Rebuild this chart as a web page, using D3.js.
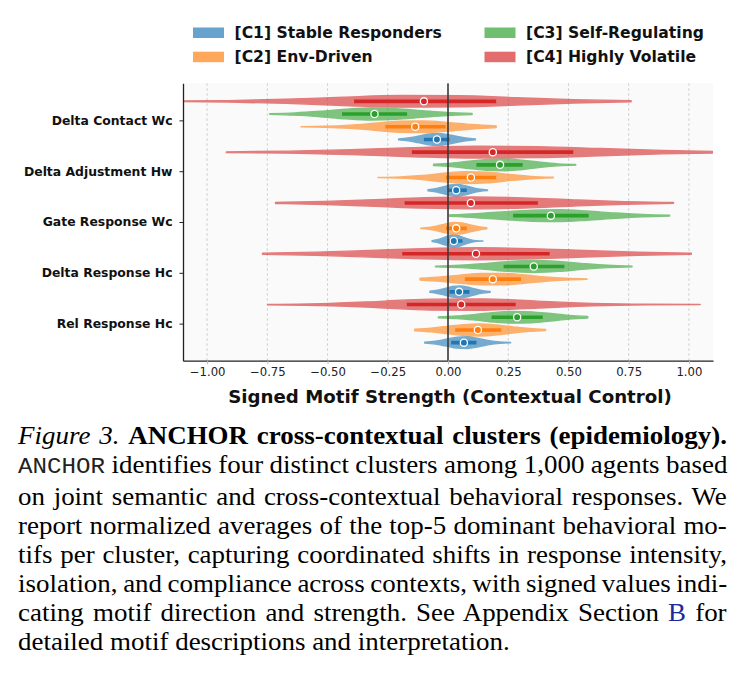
<!DOCTYPE html>
<html><head><meta charset="utf-8">
<script src="https://cdn.jsdelivr.net/npm/d3@7"></script>
<style>
body{margin:0;background:#fff;width:740px;height:677px;overflow:hidden;position:relative;}
svg{position:absolute;left:0;top:0;}
#cap{position:absolute;left:18px;top:421px;width:645px;font-family:"Liberation Serif","Times New Roman",serif;font-size:24.5px;line-height:29px;color:#000;transform:scaleX(1.1);transform-origin:0 0;}
.ln{white-space:nowrap;}
.ln > span.in{display:inline-block;}
.tt{font-family:"Liberation Mono",monospace;font-size:22px;color:#222;}
.lnk{color:#1c2a9a;}
</style></head>
<body>
<svg id="chart" width="740" height="677"></svg>
<div id="cap">
<div class="ln"><span class="in"><i>Figure 3.</i> <b>ANCHOR cross-contextual clusters (epidemiology).</b></span></div>
<div class="ln"><span class="in"><span class="tt">ANCHOR</span> identifies four distinct clusters among 1,000 agents based</span></div>
<div class="ln"><span class="in">on joint semantic and cross-contextual behavioral responses. We</span></div>
<div class="ln"><span class="in">report normalized averages of the top-5 dominant behavioral mo-</span></div>
<div class="ln"><span class="in">tifs per cluster, capturing coordinated shifts in response intensity,</span></div>
<div class="ln"><span class="in">isolation, and compliance across contexts, with signed values indi-</span></div>
<div class="ln"><span class="in">cating motif direction and strength. See Appendix Section <span class="lnk">B</span> for</span></div>
<div class="ln last"><span class="in">detailed motif descriptions and interpretation.</span></div>
</div>
<script>
const motifs = ["Delta Contact Wc","Delta Adjustment Hw","Gate Response Wc","Delta Response Hc","Rel Response Hc"];
const clusterKeys = ["C1","C2","C3","C4"];
const clusterNames = ["[C1] Stable Responders","[C2] Env-Driven","[C3] Self-Regulating","[C4] Highly Volatile"];
const xTicks = [-1,-0.75,-0.5,-0.25,0,0.25,0.5,0.75,1];

// per motif: [min, q1, median, q3, max]
const c1Stats = [[-0.205,-0.10,-0.046,0.006,0.114],[-0.083,0.0,0.034,0.078,0.164],[-0.066,0.0,0.024,0.06,0.145],[-0.075,0.006,0.046,0.089,0.175],[-0.097,0.013,0.066,0.118,0.26]];
const c2Stats = [[-0.61,-0.26,-0.136,-0.01,0.20],[-0.29,-0.008,0.095,0.20,0.437],[-0.113,-0.008,0.034,0.078,0.161],[-0.116,0.07,0.186,0.303,0.577],[-0.138,0.03,0.124,0.221,0.405]];
const c3Stats = [[-0.74,-0.44,-0.305,-0.17,0.10],[-0.06,0.118,0.216,0.31,0.53],[0.006,0.27,0.427,0.584,0.92],[-0.052,0.231,0.356,0.483,0.764],[-0.04,0.181,0.287,0.393,0.58]];
const c4Stats = [[-1.15,-0.39,-0.10,0.20,0.76],[-0.92,-0.15,0.186,0.52,1.15],[-0.716,-0.18,0.095,0.373,0.936],[-0.77,-0.19,0.116,0.422,1.01],[-0.748,-0.171,0.055,0.281,1.047]];

// relative density, 9 evenly spaced samples from min to max
const c1Density = [[0.08,0.24,0.53,0.86,1.0,0.85,0.53,0.24,0.08],[0.08,0.26,0.57,0.90,0.99,0.77,0.42,0.16,0.04],[0.08,0.28,0.65,0.96,0.92,0.58,0.24,0.06,0.01],[0.09,0.27,0.56,0.89,1.0,0.82,0.48,0.21,0.07],[0.07,0.24,0.57,0.92,0.98,0.69,0.32,0.10,0.02]];
const c2Density = [[0.02,0.08,0.27,0.59,0.92,0.98,0.73,0.37,0.13],[0.02,0.10,0.34,0.72,0.99,0.88,0.52,0.19,0.05],[0.04,0.14,0.40,0.74,0.99,0.92,0.59,0.27,0.09],[0.15,0.38,0.71,0.96,0.96,0.70,0.37,0.15,0.04],[0.12,0.31,0.61,0.90,1.0,0.83,0.52,0.24,0.09]];
const c3Density = [[0.05,0.19,0.46,0.80,1.0,0.88,0.56,0.25,0.08],[0.10,0.29,0.61,0.91,0.99,0.77,0.43,0.17,0.05],[0.13,0.34,0.65,0.93,0.99,0.77,0.45,0.19,0.06],[0.05,0.19,0.48,0.83,1.0,0.83,0.48,0.19,0.05],[0.07,0.21,0.48,0.80,0.99,0.91,0.62,0.31,0.12]];
const c4Density = [[0.03,0.12,0.34,0.70,0.97,0.93,0.62,0.28,0.09],[0.05,0.17,0.42,0.76,0.99,0.92,0.61,0.29,0.10],[0.09,0.26,0.56,0.87,1.0,0.84,0.51,0.23,0.07],[0.10,0.27,0.56,0.86,1.0,0.86,0.55,0.26,0.09],[0.03,0.16,0.50,0.91,0.95,0.57,0.20,0.04,0.00]];

const colors = {C1:"#1f77b4",C2:"#ff7f0e",C3:"#2ca02c",C4:"#d62728"};
const statsByKey = {C1:c1Stats,C2:c2Stats,C3:c3Stats,C4:c4Stats};
const densByKey = {C1:c1Density,C2:c2Density,C3:c3Density,C4:c4Density};

const L=183,R=713,T=83.3,B=360.7;
const svg = d3.select("#chart");
const x = d3.scaleLinear().domain([-1.1,1.1]).range([L,R]);
const y = d3.scalePoint().domain(motifs).range([T,B]).padding(0.73);
const hue = d3.scaleBand().domain(["C4","C3","C2","C1"]).range([-y.step()/2,y.step()/2]);
const halfW = hue.bandwidth()*0.47;

svg.append("defs").append("clipPath").attr("id","clip").append("rect")
  .attr("x",L).attr("y",T).attr("width",R-L).attr("height",B-T);

svg.append("rect").attr("x",L).attr("y",T).attr("width",R-L).attr("height",B-T).attr("fill","#fafafa");

svg.append("g").selectAll("line").data(xTicks).join("line")
  .attr("x1",d=>x(d)).attr("x2",d=>x(d)).attr("y1",T).attr("y2",B)
  .attr("stroke","#c4c4c4").attr("stroke-width",0.8).attr("stroke-dasharray","2.5,2.5");

const plot = svg.append("g").attr("clip-path","url(#clip)");
const area = d3.area().curve(d3.curveMonotoneX);

const items = [];
clusterKeys.forEach(k=>{
  motifs.forEach((m,i)=>{
    items.push({k, m, s:statsByKey[k][i], d:densByKey[k][i], cy: y(m)+hue(k)+hue.bandwidth()/2});
  });
});

const vg = plot.append("g");
items.forEach(it=>{
  const [mn,q1,md,q3,mx] = it.s;
  const n = it.d.length-1;
  const pts = it.d.map((w,j)=>({v: mn + (mx-mn)*j/n, w}));
  area.x(p=>x(p.v)).y0(p=>it.cy - p.w*halfW).y1(p=>it.cy + p.w*halfW);
  vg.append("path").attr("d",area(pts))
    .attr("fill",colors[it.k]).attr("stroke",colors[it.k]).attr("stroke-width",1.4)
    .attr("stroke-linejoin","round").attr("opacity",0.6);
});
items.forEach(it=>{
  const [mn,q1,md,q3,mx] = it.s;
  vg.append("line").attr("x1",x(q1)).attr("x2",x(q3)).attr("y1",it.cy).attr("y2",it.cy)
    .attr("stroke",colors[it.k]).attr("stroke-width",3.6);
});
plot.append("line").attr("x1",x(0)).attr("x2",x(0)).attr("y1",T).attr("y2",B)
  .attr("stroke","#3a3a3a").attr("stroke-width",1.6);
items.forEach(it=>{
  vg.append("circle").attr("cx",x(it.s[2])).attr("cy",it.cy).attr("r",3.6)
    .attr("fill",colors[it.k]).attr("stroke","#fff").attr("stroke-width",1.3);
});

const xa = svg.append("g").attr("transform",`translate(0,${B})`)
  .call(d3.axisBottom(x).tickValues(xTicks).tickFormat(d3.format(".2f")).tickSize(3.5).tickSizeOuter(0).tickPadding(3.5));
xa.selectAll("text").attr("font-family","DejaVu Sans").attr("font-size","11.7px").attr("fill","#222");
xa.selectAll(".tick line").attr("stroke","#bbb");
xa.select(".domain").attr("stroke","#222").attr("stroke-width",1.3);

const ya = svg.append("g").attr("transform",`translate(${L},0)`)
  .call(d3.axisLeft(y).tickSize(3.5).tickSizeOuter(0).tickPadding(7));
ya.selectAll("text").attr("font-family","DejaVu Sans").attr("font-weight","bold").attr("font-size","12.4px").attr("fill","#111");
ya.selectAll(".tick line").attr("stroke","#222");
ya.select(".domain").attr("stroke","#222").attr("stroke-width",1.3);

const title = svg.append("text").attr("x",(L+R)/2+2).attr("y",403).attr("text-anchor","middle")
  .attr("font-family","DejaVu Sans").attr("font-weight","bold").attr("font-size","16px").attr("fill","#111")
  .text("Signed Motif Strength (Contextual Control)");
const tw = title.node().getComputedTextLength();
title.attr("font-size",(16*444/tw).toFixed(2)+"px");

const legPos = [{x:193,y:27.5},{x:193,y:51.7},{x:484.5,y:27.5},{x:484.5,y:51.7}];
const leg = svg.append("g");
clusterKeys.forEach((k,i)=>{
  const p = legPos[i];
  leg.append("rect").attr("x",p.x).attr("y",p.y).attr("width",31).attr("height",10.5)
    .attr("fill",colors[k]).attr("opacity",0.68);
  leg.append("text").attr("x",p.x+41.5).attr("y",p.y+10.7)
    .attr("font-family","DejaVu Sans").attr("font-weight","bold").attr("font-size","15.6px").attr("fill","#111")
    .text(clusterNames[i]);
});

// justify caption lines by word spacing
const target = 709/1.1;
document.querySelectorAll("#cap .ln").forEach(el=>{
  if(el.classList.contains("last")) return;
  const inner = el.querySelector(".in");
  const w = inner.offsetWidth;
  const nSp = (inner.textContent.trim().match(/ /g)||[]).length;
  if(nSp>0) inner.style.wordSpacing = ((target-w)/nSp).toFixed(2)+"px";
});
</script>
</body></html>
